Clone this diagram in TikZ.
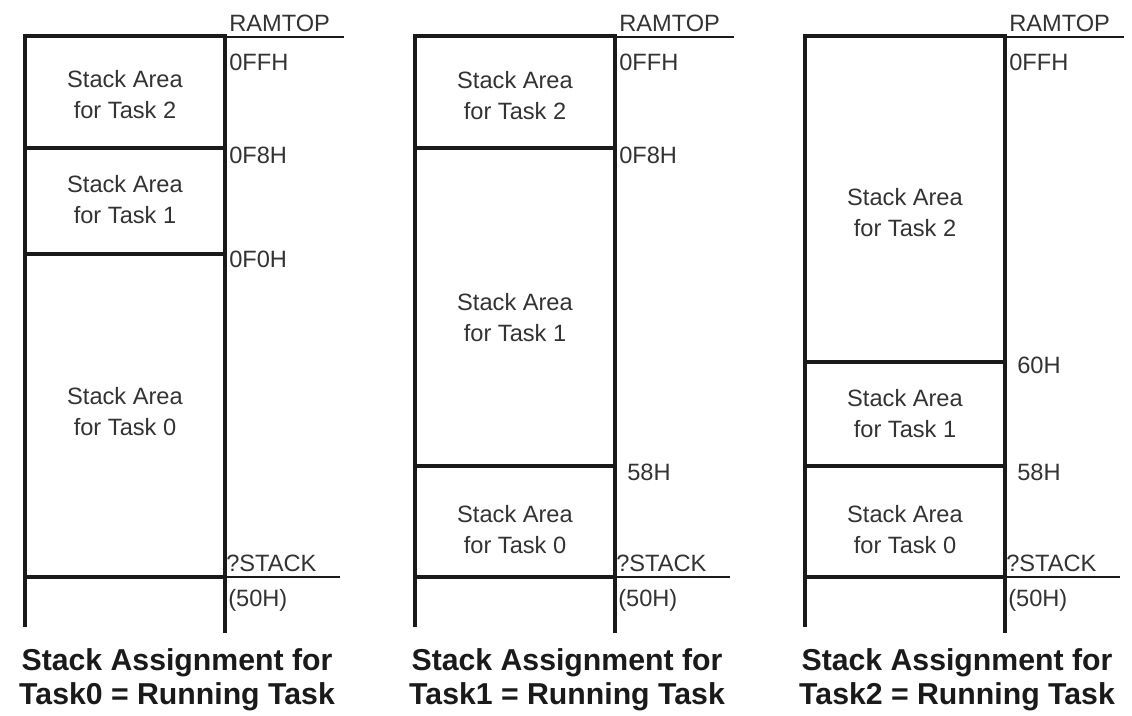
\documentclass[tikz,border=0pt]{standalone}
\usepackage{fontspec}
\setmainfont{Liberation Sans}
\usepackage{xcolor}
\usepackage{tikz}
\usetikzlibrary{positioning}
\definecolor{ink}{HTML}{1A1A1A}
\definecolor{txt}{HTML}{333333}

\tikzset{
  wall/.style={line width=2.5pt,draw=ink},
  rule/.style={line width=1pt,draw=ink},
  area/.style={font=\fontsize{16.8}{22}\selectfont,align=center,text=txt,inner sep=0pt},
  addr/.style={font=\fontsize{16.8}{20}\selectfont,anchor=west,text=txt,inner sep=0pt},
  caption/.style={font=\fontsize{21.5}{24.5}\selectfont\bfseries,align=center,text=ink,inner sep=0pt}
}

\begin{document}
\begin{tikzpicture}[x=0.025cm,y=-0.025cm]
  \useasboundingbox (0,0) rectangle (1132,716);
  \foreach \c/\ox in {0/25,1/415,2/805}{
    \draw[wall] (\ox,627) -- (\ox,36) -- (\ox+200,36) -- (\ox+200,633);
    \draw[wall] (\ox,577) -- (\ox+200,577);
    \draw[rule] (\ox+200,37) -- (\ox+319,37);
    \draw[rule] (\ox+200,577) -- (\ox+315,577);
    \node[addr] (ramtop\c) at (\ox+204,23) {RAMTOP};
    \node[addr] (ffh\c) at (\ox+204,62) {0FFH};
    \node[addr] (stack\c) at (\ox+201,563) {?STACK};
    \node[addr] (base\c) at (\ox+203,600) {(50H)};
    \node[caption] (cap\c) at (\ox+152,680) {Stack Assignment for\\Task\c{} = Running Task};
  }
  % Task0 running
  \draw[wall] (25,148) -- (225,148);
  \draw[wall] (25,254) -- (225,254);
  \node[addr] (fbh0) at (229,155) {0F8H};
  \node[addr] (fah0) at (229,259) {0F0H};
  \node[area] (tsk20) at (125,95) {Stack Area\\for Task 2};
  \node[area] (tsk10) at (125,200) {Stack Area\\for Task 1};
  \node[area] (tsk00) at (125,412) {Stack Area\\for Task 0};
  % Task1 running
  \draw[wall] (415,148) -- (615,148);
  \draw[wall] (415,466) -- (615,466);
  \node[addr] (fbh1) at (619,155) {0F8H};
  \node[addr] (lim1) at (627,472) {58H};
  \node[area] (tsk21) at (515,96) {Stack Area\\for Task 2};
  \node[area] (tsk11) at (515,318) {Stack Area\\for Task 1};
  \node[area] (tsk01) at (515,530) {Stack Area\\for Task 0};
  % Task2 running
  \draw[wall] (805,362) -- (1005,362);
  \draw[wall] (805,466) -- (1005,466);
  \node[addr] (top2) at (1017,365) {60H};
  \node[addr] (lim2) at (1017,472) {58H};
  \node[area] (tsk22) at (905,213) {Stack Area\\for Task 2};
  \node[area] (tsk12) at (905,414) {Stack Area\\for Task 1};
  \node[area] (tsk02) at (905,530) {Stack Area\\for Task 0};
\end{tikzpicture}
\end{document}
